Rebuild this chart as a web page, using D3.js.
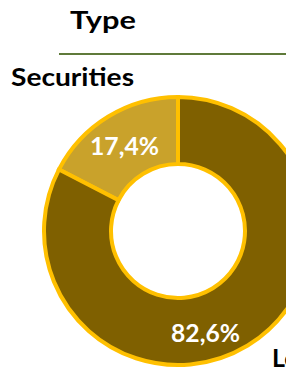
<!DOCTYPE html>
<html>
<head>
<meta charset="utf-8">
<script src="https://cdn.jsdelivr.net/npm/d3@7"></script>
<style>
  body { margin: 0; background: #fff; }
  svg { display: block; }
  text { font-family: Lato, "Open Sans", sans-serif; font-weight: bold; }
</style>
</head>
<body>
<svg width="286" height="373"></svg>
<script>
// chart values
var categories = ["Securities", "Loans"];
var shares = [17.4, 82.6];
var labels = ["17,4%", "82,6%"];
var colors = ["#C9A22B", "#7F6000"];

let svg = d3.select("svg");

// stretch a text to the width it has in the original
function fitWidth(sel, w) {
  sel.attr("textLength", w).attr("lengthAdjust", "spacingAndGlyphs");
}

// header
svg.append("text")
  .attr("x", 70).attr("y", 29)
  .style("font-size", "25px")
  .text("Type")
  .call(fitWidth, 66);

svg.append("line")
  .attr("x1", 59).attr("x2", 286)
  .attr("y1", 54).attr("y2", 54)
  .attr("stroke", "#5F7A3A")
  .attr("stroke-width", 2);

// donut
let cx = 178, cy = 231;
let outerR = 134, innerR = 67;

let pie = d3.pie()
  .sort(null)
  .value(function(d) { return d; })
  .startAngle(0)
  .endAngle(-2 * Math.PI); // counter clockwise from top

let arc = d3.arc().innerRadius(innerR).outerRadius(outerR);

let g = svg.append("g").attr("transform", "translate(" + cx + "," + cy + ")");

let arcs = pie(shares);

g.selectAll("path")
  .data(arcs)
  .enter().append("path")
  .attr("d", arc)
  .attr("fill", function(d, i) { return colors[i]; })
  .attr("stroke", "#FFC000")
  .attr("stroke-width", 4)
  .attr("stroke-linejoin", "miter");

// percent labels
let labelPos = [[124 - cx, 155 - cy], [205 - cx, 342 - cy]];
g.selectAll("text.pct")
  .data(arcs)
  .enter().append("text")
  .attr("class", "pct")
  .attr("x", function(d, i) { return labelPos[i][0] - 34; })
  .attr("y", function(d, i) { return labelPos[i][1]; })
  .attr("fill", "#fff")
  .style("font-size", "24px")
  .text(function(d, i) { return labels[i]; })
  .call(fitWidth, 69);

// category labels
svg.append("text")
  .attr("x", 11).attr("y", 86)
  .style("font-size", "25px")
  .text(categories[0])
  .call(fitWidth, 123);

svg.append("text")
  .attr("x", 272).attr("y", 367)
  .style("font-size", "25px")
  .text(categories[1]);
</script>
</body>
</html>
